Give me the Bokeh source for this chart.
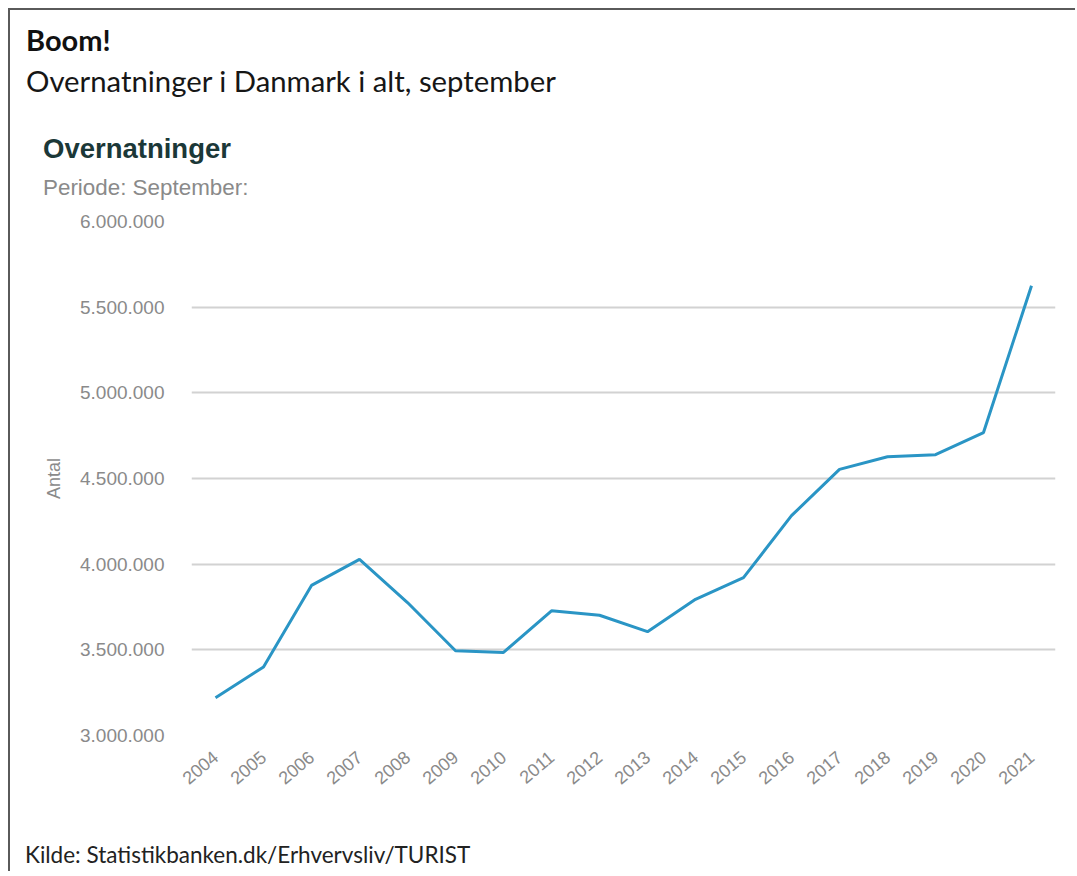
from bokeh.plotting import figure
from bokeh.layouts import column
from bokeh.models import (ColumnDataSource, FactorRange, Range1d, FixedTicker,
                          CustomJSTickFormatter, Div)
from bokeh.embed import file_html
from bokeh.resources import INLINE

# ---- data ----
years = ["2004", "2005", "2006", "2007", "2008", "2009", "2010", "2011", "2012",
         "2013", "2014", "2015", "2016", "2017", "2018", "2019", "2020", "2021"]
overnatninger = [3220000, 3400000, 3876000, 4028000, 3776000, 3495000, 3485000,
                 3728000, 3702000, 3606000, 3795000, 3921000, 4283000, 4553000,
                 4627000, 4639000, 4768000, 5625000]
y_ticks = [3000000, 3500000, 4000000, 4500000, 5000000, 5500000, 6000000]

title_text = "Boom!"
subtitle_text = "Overnatninger i Danmark i alt, september"
chart_title = "Overnatninger"
period_text = "Periode: September:"
source_text = "Kilde: Statistikbanken.dk/Erhvervsliv/TURIST"
y_label = "Antal"

# ---- layout constants (pixels) ----
W = 1065
TOP_H = 191
MAIN_BORDER_TOP = 20
FRAME_H = 514
MAIN_BORDER_BOTTOM = 70
BOTTOM_H = 66


def svg_text(text, x, y, font, size, color, weight="normal"):
    return ('<text x="%s" y="%s" style="font-family:\'%s\';font-size:%s;'
            'font-weight:%s;fill:%s">%s</text>' % (x, y, font, size, weight, color, text))


def text_block(items, height):
    body = "".join(svg_text(*it) for it in items)
    html = ('<svg xmlns="http://www.w3.org/2000/svg" width="%d" height="%d" '
            'style="display:block">%s</svg>' % (W, height, body))
    return Div(text=html, width=W, height=height,
               styles={"margin": "0", "padding": "0"})


# ---- header (x, baseline y within block) ----
header = text_block([
    (title_text, 16, 41, "Lato", "29px", "#111111", "bold"),
    (subtitle_text, 16, 82, "Lato", "29.3px", "#161616"),
    (chart_title, 33, 148, "Liberation Sans", "27.5px", "#1b3838", "bold"),
    (period_text, 33, 185, "Liberation Sans", "22.4px", "#8a8a8a"),
], TOP_H)

# ---- main chart ----
src = ColumnDataSource(data=dict(year=years, value=overnatninger))

p = figure(x_range=FactorRange(factors=years), y_range=Range1d(3000000, 6000000),
           frame_width=864, frame_height=FRAME_H,
           min_border_left=181, min_border_right=W - 181 - 864,
           min_border_top=MAIN_BORDER_TOP, min_border_bottom=MAIN_BORDER_BOTTOM,
           output_backend="svg", toolbar_location=None)
p.outline_line_color = None
p.background_fill_color = "white"
p.border_fill_color = "white"

p.line(x="year", y="value", source=src, line_color="#2a95c5", line_width=3)

p.xgrid.grid_line_color = None
p.ygrid.grid_line_color = "#d2d2d2"
p.ygrid.grid_line_width = 2

p.yaxis.ticker = FixedTicker(ticks=y_ticks)
p.yaxis.formatter = CustomJSTickFormatter(
    code='return Math.round(tick).toString().replace(/\\B(?=(\\d{3})+(?!\\d))/g, ".");')
p.yaxis.axis_line_color = None
p.yaxis.major_tick_line_color = None
p.yaxis.minor_tick_line_color = None
p.yaxis.major_tick_out = 0
p.yaxis.major_tick_in = 0
p.yaxis.major_label_standoff = 27
p.yaxis.major_label_text_font = "Liberation Sans"
p.yaxis.major_label_text_font_size = "19px"
p.yaxis.major_label_text_color = "#8a8a8a"
p.yaxis.axis_label = y_label
p.yaxis.axis_label_text_font = "Liberation Sans"
p.yaxis.axis_label_text_font_size = "18px"
p.yaxis.axis_label_text_font_style = "normal"
p.yaxis.axis_label_text_color = "#8a8a8a"
p.yaxis.axis_label_standoff = 13

p.xaxis.axis_line_color = None
p.xaxis.major_tick_line_color = None
p.xaxis.major_tick_out = 0
p.xaxis.major_tick_in = 0
p.xaxis.major_label_orientation = 0.7
p.xaxis.major_label_standoff = 19
p.xaxis.major_label_text_font = "Liberation Sans"
p.xaxis.major_label_text_font_size = "18px"
p.xaxis.major_label_text_color = "#8a8a8a"

# ---- footer ----
footer = text_block([
    (source_text, 15, 58, "Lato", "22.5px", "#222222"),
], BOTTOM_H)

layout = column(header, p, footer, spacing=0)
layout.styles = {"margin-left": "8px", "margin-top": "8px",
                 "border-left": "2px solid #5a5a5a", "border-top": "2px solid #5a5a5a"}

open("out.html", "w").write(file_html(layout, INLINE))
